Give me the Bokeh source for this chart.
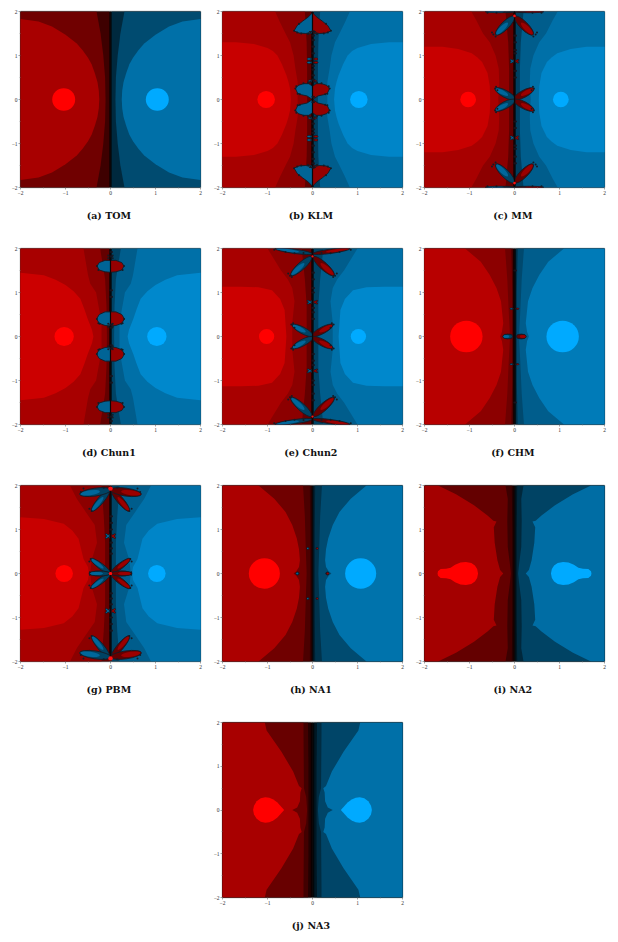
import math
from bokeh.plotting import figure
from bokeh.layouts import column, row, Spacer
from bokeh.models import ColumnDataSource, FixedTicker, Title, Range1d
from bokeh.embed import file_html
from bokeh.resources import INLINE

CAPTIONS = ["(a)  TOM", "(b)  KLM", "(c)  MM", "(d)  Chun1", "(e)  Chun2",
            "(f)  CHM", "(g)  PBM", "(h)  NA1", "(i)  NA2", "(j)  NA3"]
TICKS = [-2, -1, 0, 1, 2]
TICK_LABELS = ["\u22122", "\u22121", "0", "1", "2"]
MINOR_TICKS = [-1.5, -0.5, 0.5, 1.5]

# Each basin outline: (x, y) on the left, upper quadrant.
# Mirrored for the lower half and for the right basin. Ordered inner to outer.
TOM_bounds = [
    [(-0.03, 0), (-0.03, 2)],
    [(-0.11, 0), (-0.12, 0.5), (-0.16, 1.0), (-0.22, 1.5), (-0.31, 2)],
    [(-0.25, 0), (-0.26, 0.2), (-0.29, 0.4), (-0.35, 0.6), (-0.42, 0.8), (-0.5, 0.95), (-0.62, 1.12), (-0.75, 1.27), (-1, 1.47), (-1.3, 1.66), (-1.6, 1.77), (-2, 1.83)],
]
TOM_shades = [28, 62, 112, 168]
TOM_root = (-1.04, 0.255)
TOM_petals = []
TOM_lobes = []
TOM_dots = []
TOM_beads = []
TOM_sparks = []

KLM_bounds = [
    [(-0.03, 0), (-0.03, 2)],
    [(-0.12, 0), (-0.12, 0.7), (-0.13, 1.3), (-0.17, 2)],
    [(-0.33, 0), (-0.33, 0.4), (-0.38, 0.7), (-0.42, 1.0), (-0.5, 1.3), (-0.6, 1.5), (-0.72, 1.75), (-0.83, 2)],
    [(-0.48, 0), (-0.5, 0.25), (-0.54, 0.42), (-0.58, 0.55), (-0.68, 0.8), (-0.78, 1.0), (-0.88, 1.1), (-1.0, 1.17), (-1.3, 1.26), (-1.7, 1.3), (-2, 1.3)],
]
KLM_shades = [35, 95, 140, 168, 200]
KLM_root = (-1.03, 0.195)
KLM_petals = [(0.06, 0.92, 0.12, 0.05, 0), (0.06, 0.84, 0.12, 0.05, 0), (0.04, 1.52, 0.1, 0.05, 0), (0.04, 0.42, 0.1, 0.05, 0)]
KLM_lobes = [[(0, 0), (0.12, 0.08), (0.25, 0.11), (0.33, 0.14), (0.38, 0.25), (0.32, 0.32), (0.2, 0.36), (0.08, 0.36), (0, 0.3)],
             [(0, 1.97), (0.1, 1.87), (0.22, 1.78), (0.34, 1.68), (0.41, 1.56), (0.3, 1.51), (0.15, 1.5), (0, 1.53)]]
KLM_dots = [0.06, 0.45, 0.55, 0.68, 0.76, 1.05, 1.2, 1.35, 1.45, 1.55]
KLM_beads = [(0.38, 0.25), (0.33, 0.13), (0.28, 0.12), (0.36, 0.3), (0.1, 0.38), (0.05, 0.41), (0.2, 0.37), (0.41, 1.56),
             (0.34, 1.52), (0.25, 1.5), (0.1, 1.49), (0.05, 1.53), (0.3, 1.72)]
KLM_sparks = []

MM_bounds = [
    [(-0.03, 0), (-0.03, 2)],
    [(-0.12, 0), (-0.12, 0.7), (-0.14, 1.3), (-0.2, 2)],
    [(-0.36, 0), (-0.34, 0.4), (-0.35, 0.7), (-0.42, 1.0), (-0.55, 1.3), (-0.7, 1.5), (-0.85, 1.8), (-0.96, 2)],
    [(-0.54, 0), (-0.55, 0.3), (-0.6, 0.6), (-0.72, 0.85), (-0.83, 0.96), (-0.95, 1.05), (-1.25, 1.15), (-1.6, 1.2), (-2, 1.2)],
]
MM_shades = [35, 95, 140, 168, 200]
MM_root = (-1.03, 0.175)
MM_petals = [(0.21, 0.13, 0.5, 0.16, 28), (0.21, 1.68, 0.58, 0.18, -45),
             (0.32, 1.995, 0.66, 0.045, 0), (0.04, 0.87, 0.13, 0.035, 35), (0.04, 0.87, 0.13, 0.035, -35)]
MM_lobes = []
MM_dots = [0.5, 0.65, 1.05, 1.12, 1.3, 1.45]
MM_beads = [(0.43, 0.25), (0.38, 0.21), (0.41, 0.29), (0.47, 1.48), (0.42, 1.43), (0.5, 1.52), (0.6, 1.97), (0.4, 1.97)]
MM_sparks = [(1.9, 0.03)]

CHUN1_bounds = [
    [(-0.03, 0), (-0.03, 2)],
    [(-0.08, 0), (-0.09, 0.7), (-0.12, 1.3), (-0.23, 2)],
    [(-0.2, 0), (-0.2, 0.3), (-0.25, 0.6), (-0.32, 1.0), (-0.45, 1.2), (-0.5, 1.4), (-0.55, 1.7), (-0.6, 2)],
    [(-0.38, 0), (-0.41, 0.15), (-0.51, 0.41), (-0.58, 0.62), (-0.67, 0.86), (-0.82, 1.03), (-1.0, 1.17), (-1.22, 1.29), (-1.48, 1.39), (-2, 1.45)],
]
CHUN1_shades = [35, 100, 140, 168, 204]
CHUN1_root = (-1.03, 0.215)
CHUN1_petals = []
CHUN1_lobes = [[(0, 0.24), (0.12, 0.25), (0.25, 0.3), (0.31, 0.4), (0.25, 0.5), (0.12, 0.56), (0, 0.56)],
               [(0, 1.46), (0.12, 1.47), (0.25, 1.51), (0.3, 1.6), (0.25, 1.68), (0.12, 1.73), (0, 1.73)]]
CHUN1_dots = [0.2, 0.27, 0.9, 1.05, 1.82, 1.92]
CHUN1_beads = [(0.3, 0.4), (0.27, 0.3), (0.24, 0.29), (0.05, 0.22), (0.05, 0.29), (0.3, 1.6), (0.27, 1.51), (0.05, 1.78), (0.05, 1.84)]
CHUN1_sparks = []

CHUN2_bounds = [
    [(-0.03, 0), (-0.03, 2)],
    [(-0.13, 0), (-0.13, 0.7), (-0.17, 1.3), (-0.24, 2)],
    [(-0.45, 0), (-0.45, 0.3), (-0.4, 0.8), (-0.45, 1.1), (-0.55, 1.3), (-0.7, 1.5), (-0.85, 1.75), (-1.0, 2)],
    [(-0.58, 0), (-0.6, 0.3), (-0.62, 0.6), (-0.72, 0.85), (-0.9, 1.05), (-1.2, 1.12), (-1.6, 1.13), (-2, 1.13)],
]
CHUN2_shades = [35, 100, 140, 168, 204]
CHUN2_root = (-1.02, 0.17)
CHUN2_petals = [(0.22, 0.14, 0.52, 0.15, 28), (0.25, 1.6, 0.62, 0.17, -42), (0.42, 1.94, 0.84, 0.1, 8),
                (0.05, 0.78, 0.15, 0.035, 30), (0.05, 0.78, 0.15, 0.035, -30)]
CHUN2_lobes = []
CHUN2_dots = [0.4, 0.55, 0.65, 1.0, 1.1, 1.3, 1.45]
CHUN2_beads = [(0.47, 0.27), (0.4, 0.2), (0.43, 0.3), (0.5, 1.38), (0.54, 1.43), (0.46, 1.35), (0.2, 1.9), (0.4, 1.89), (0.6, 1.92), (0.85, 1.97)]
CHUN2_sparks = [(1.82, 0.025)]

CHM_bounds = [
    [(-0.03, 0), (-0.03, 2)],
    [(-0.05, 0), (-0.05, 1.0), (-0.07, 2)],
    [(-0.1, 0), (-0.13, 0.6), (-0.16, 1.3), (-0.21, 2)],
    [(-0.32, 0), (-0.28, 0.1), (-0.25, 0.3), (-0.27, 0.5), (-0.3, 0.8), (-0.4, 1.1), (-0.55, 1.4), (-0.75, 1.7), (-1.1, 2)],
]
CHM_shades = [20, 70, 110, 140, 184]
CHM_root = (-1.07, 0.36)
CHM_petals = [(0.15, 0, 0.21, 0.1, 0), (0.06, 0.63, 0.08, 0.03, 0)]
CHM_lobes = []
CHM_dots = [1.5]
CHM_beads = []
CHM_sparks = []

PBM_bounds = [
    [(-0.03, 0), (-0.03, 2)],
    [(-0.12, 0), (-0.12, 0.7), (-0.15, 1.3), (-0.2, 2)],
    [(-0.45, 0), (-0.42, 0.3), (-0.3, 0.7), (-0.35, 1.1), (-0.55, 1.4), (-0.75, 1.7), (-0.9, 2)],
    [(-0.48, 0), (-0.5, 0.15), (-0.6, 0.33), (-0.71, 0.79), (-0.85, 0.98), (-1.04, 1.13), (-1.48, 1.24), (-2, 1.28)],
]
PBM_shades = [35, 100, 140, 168, 200]
PBM_root = (-1.03, 0.195)
PBM_petals = [(0.22, 0.17, 0.55, 0.13, 37), (0.24, 0, 0.46, 0.11, 0), (0.22, 1.66, 0.62, 0.15, -50), (0.34, 1.85, 0.7, 0.18, -8),
              (0.05, 0.85, 0.15, 0.04, 40), (0.05, 0.85, 0.15, 0.04, -40)]
PBM_lobes = []
PBM_dots = [0.45, 0.57, 0.7, 1.0, 1.15, 1.3]
PBM_beads = [(0.44, 0.33), (0.47, 0.27), (0.46, 0.03), (0.42, 1.42), (0.47, 1.47), (0.66, 1.85), (0.6, 1.93), (0.15, 1.95)]
PBM_sparks = [(0, 0.035), (1.93, 0.05)]

NA1_bounds = [
    [(-0.02, 0), (-0.02, 2)],
    [(-0.05, 0), (-0.05, 1.0), (-0.06, 2)],
    [(-0.13, 0), (-0.15, 0.6), (-0.17, 1.3), (-0.21, 2)],
    [(-0.42, 0), (-0.36, 0.05), (-0.3, 0.15), (-0.28, 0.3), (-0.3, 0.55), (-0.35, 0.8), (-0.45, 1.1), (-0.6, 1.4), (-0.85, 1.7), (-1.2, 2)],
]
NA1_shades = [18, 50, 76, 112, 172]
NA1_root = (-1.07, 0.345)
NA1_petals = [(0.33, 0, 0.06, 0.06, 0), (0.1, 0.57, 0.05, 0.05, 0)]
NA1_lobes = []
NA1_dots = []
NA1_beads = []
NA1_sparks = []

NA2_bounds = [
    [(-0.02, 0), (-0.02, 2)],
    [(-0.05, 0), (-0.05, 1.0), (-0.06, 2)],
    [(-0.08, 0), (-0.1, 0.2), (-0.15, 0.6), (-0.16, 1.2), (-0.15, 1.7), (-0.2, 2)],
    [(-0.25, 0), (-0.32, 0.08), (-0.38, 0.3), (-0.44, 0.7), (-0.46, 1.05), (-0.4, 1.18), (-0.47, 1.2), (-0.6, 1.32), (-0.9, 1.55), (-1.3, 1.8), (-1.7, 2)],
]
NA2_shades = [12, 36, 60, 100, 164]
NA2_root = [(-0.81, 0), (-0.83, 0.1), (-0.88, 0.18), (-0.96, 0.24), (-1.08, 0.26), (-1.2, 0.25), (-1.32, 0.2), (-1.42, 0.13), (-1.52, 0.11), (-1.64, 0.1), (-1.7, 0.05), (-1.71, 0)]
NA2_petals = []
NA2_lobes = []
NA2_dots = []
NA2_beads = []
NA2_sparks = []

NA3_bounds = [
    [(-0.04, 0), (-0.04, 2)],
    [(-0.09, 0), (-0.09, 1.0), (-0.1, 2)],
    [(-0.12, 0), (-0.14, 0.3), (-0.19, 0.5), (-0.2, 1.8), (-0.2, 2)],
    [(-0.45, 0), (-0.34, 0.06), (-0.28, 0.2), (-0.27, 0.4), (-0.24, 0.5), (-0.3, 0.55), (-0.43, 0.88), (-0.69, 1.33), (-1.02, 1.82), (-1.06, 2)],
]
NA3_shades = [12, 36, 66, 104, 168]
NA3_root = [(-0.63, 0), (-0.7, 0.08), (-0.78, 0.17), (-0.87, 0.24), (-0.96, 0.28), (-1.05, 0.29), (-1.15, 0.27), (-1.24, 0.2), (-1.3, 0.1), (-1.32, 0)]
NA3_petals = []
NA3_lobes = []
NA3_dots = []
NA3_beads = []
NA3_sparks = []

PANELS = [
    (TOM_bounds, TOM_shades, TOM_root, TOM_petals, TOM_lobes, TOM_dots, TOM_beads, TOM_sparks),
    (KLM_bounds, KLM_shades, KLM_root, KLM_petals, KLM_lobes, KLM_dots, KLM_beads, KLM_sparks),
    (MM_bounds, MM_shades, MM_root, MM_petals, MM_lobes, MM_dots, MM_beads, MM_sparks),
    (CHUN1_bounds, CHUN1_shades, CHUN1_root, CHUN1_petals, CHUN1_lobes, CHUN1_dots, CHUN1_beads, CHUN1_sparks),
    (CHUN2_bounds, CHUN2_shades, CHUN2_root, CHUN2_petals, CHUN2_lobes, CHUN2_dots, CHUN2_beads, CHUN2_sparks),
    (CHM_bounds, CHM_shades, CHM_root, CHM_petals, CHM_lobes, CHM_dots, CHM_beads, CHM_sparks),
    (PBM_bounds, PBM_shades, PBM_root, PBM_petals, PBM_lobes, PBM_dots, PBM_beads, PBM_sparks),
    (NA1_bounds, NA1_shades, NA1_root, NA1_petals, NA1_lobes, NA1_dots, NA1_beads, NA1_sparks),
    (NA2_bounds, NA2_shades, NA2_root, NA2_petals, NA2_lobes, NA2_dots, NA2_beads, NA2_sparks),
    (NA3_bounds, NA3_shades, NA3_root, NA3_petals, NA3_lobes, NA3_dots, NA3_beads, NA3_sparks),
]


def red(v):
    return "#%02x0000" % v


def blue(v):
    return "#00%02x%02x" % (round(v * 2 / 3), v)


def outline(points):
    top = list(points)
    last = top[-1]
    xs = [p[0] for p in reversed(top)] + [p[0] for p in top[1:]]
    ys = [-p[1] for p in reversed(top)] + [p[1] for p in top[1:]]
    xs += [-2.2, -2.2]
    ys += [last[1], -last[1]]
    return xs, ys


def blob(points):
    xs = [p[0] for p in points] + [p[0] for p in reversed(points[1:-1])]
    ys = [p[1] for p in points] + [-p[1] for p in reversed(points[1:-1])]
    return xs, ys


def panel(i, left, right, top, frame_h, bottom):
    bounds, shades, root, petals, lobes, dots, beads, sparks = PANELS[i]
    p = figure(width=left + 180 + right, height=top + frame_h + bottom,
               min_border_left=left, min_border_right=right,
               min_border_top=top, min_border_bottom=bottom,
               x_range=Range1d(-2, 2), y_range=Range1d(-2, 2),
               output_backend="svg", toolbar_location=None,
               background_fill_color="white", border_fill_color="white")
    p.frame_width = 180
    p.frame_height = frame_h
    p.grid.visible = False
    p.outline_line_color = "#aab0b0"
    p.outline_line_width = 1.5
    for ax in (p.xaxis[0], p.yaxis[0]):
        ax.ticker = FixedTicker(ticks=TICKS, minor_ticks=MINOR_TICKS)
        ax.major_label_overrides = dict(zip(TICKS, TICK_LABELS))
        ax.major_label_text_font_size = "5.5px"
        ax.major_label_text_font = "Liberation Serif"
        ax.major_label_text_color = "#333333"
        ax.major_label_standoff = 1
        ax.axis_line_color = None
        ax.major_tick_line_color = "#666666"
        ax.minor_tick_line_color = "#888888"
        ax.major_tick_line_width = 0.6
        ax.minor_tick_line_width = 0.5
        ax.major_tick_in = 0
        ax.minor_tick_in = 0
        ax.major_tick_out = 2
        ax.minor_tick_out = 1

    xs, ys, colors = [[-2.2, 0, 0, -2.2], [2.2, 0, 0, 2.2]], [[-2.2, -2.2, 2.2, 2.2]] * 2, [red(shades[0]), blue(shades[0])]
    for b, v in zip(bounds, shades[1:]):
        bx, by = outline(b)
        xs += [bx, [-q for q in bx]]
        ys += [by, by]
        colors += [red(v), blue(v)]
    p.patches("xs", "ys", fill_color="colors", line_color=None,
              source=ColumnDataSource(dict(xs=xs, ys=ys, colors=colors)))

    if lobes:
        lx, ly, lc = [], [], []
        for lobe in lobes:
            for sx, col in ((1, red), (-1, blue)):
                for sy in (1, -1):
                    lx.append([sx * q[0] for q in lobe])
                    ly.append([sy * q[1] for q in lobe])
                    lc.append(col(150))
        p.patches("x", "y", fill_color="c", line_color="#141c26", line_width=0.9,
                  source=ColumnDataSource(dict(x=lx, y=ly, c=lc)))

    if petals:
        ex, ey, ew, eh, ea, ec = [], [], [], [], [], []
        ix, iy, iw, ih, ia, ic = [], [], [], [], [], []
        for cx, cy, w, h, a in petals:
            for sx, col in ((1, red), (-1, blue)):
                for sy in (1, -1):
                    ang = a * sx * sy
                    ex.append(sx * cx); ey.append(sy * cy); ew.append(w); eh.append(h); ea.append(ang)
                    ec.append(col(100))
                    rad = math.radians(a)
                    ix.append(sx * (cx + 0.16 * w * math.cos(rad)))
                    iy.append(sy * (cy + 0.16 * w * math.sin(rad)))
                    iw.append(w * 0.62); ih.append(h * 0.62); ia.append(ang)
                    ic.append(col(155))
        p.ellipse("x", "y", width="w", height="h", angle="a", angle_units="deg",
                  fill_color="c", line_color="#141c26", line_width=0.9,
                  source=ColumnDataSource(dict(x=ex, y=ey, w=ew, h=eh, a=ea, c=ec)))
        p.ellipse("x", "y", width="w", height="h", angle="a", angle_units="deg",
                  fill_color="c", line_color=None,
                  source=ColumnDataSource(dict(x=ix, y=iy, w=iw, h=ih, a=ia, c=ic)))

    p.segment(x0=[0], y0=[-2], x1=[0], y1=[2], line_color="#0c0608", line_width=1.2)

    if dots:
        dy = list(dots) + [-d for d in dots]
        p.scatter(x=[0] * len(dy) + [0.03] * len(dy), y=dy + dy, size=2.2,
                  marker="circle", fill_color="#18141e", line_color=None)

    if beads:
        bx = [sx * q[0] for q in beads for sx in (1, -1) for sy in (1, -1)]
        by = [sy * q[1] for q in beads for sx in (1, -1) for sy in (1, -1)]
        p.scatter(x=bx, y=by, size=2.0, marker="circle", fill_color="#141c26", line_color=None)

    if sparks:
        sx = [0 for s in sparks for sg in (1, -1)]
        sy = [sg * s[0] for s in sparks for sg in (1, -1)]
        sw = [2 * s[1] for s in sparks for sg in (1, -1)]
        p.ellipse(x=sx, y=sy, width=sw, height=sw, fill_color="#ff1010", line_color=None)

    if isinstance(root, tuple):
        cx, r = root
        p.ellipse(x=[cx, -cx], y=[0, 0], width=[2 * r, 2 * r], height=[2 * r, 2 * r],
                  fill_color=["#ff0000", "#00aaff"], line_color=None)
    else:
        bx, by = blob(root)
        p.patches([bx, [-q for q in bx]], [by, by], fill_color=["#ff0000", "#00aaff"], line_color=None)

    p.add_layout(Title(text=CAPTIONS[i], align="center", text_font="DejaVu Serif",
                       text_font_style="bold", text_font_size="9.5px", text_color="#111111",
                       standoff=20), "below")
    return p


COLS = [(12, 10), (10, 10), (12, 8)]
rows = []
for r in range(3):
    top = 11 if r == 0 else 3
    cells = []
    for c in range(3):
        left = COLS[c][0] + (8 if c == 0 else 0)
        cells.append(panel(r * 3 + c, left, COLS[c][1], top, 176, 58))
    rows.append(row(*cells, spacing=0))
rows.append(row(Spacer(width=210, height=215), panel(9, COLS[1][0], COLS[1][1], 3, 175, 43), spacing=0))
page = column(*rows, spacing=0)
open("out.html", "w").write(file_html(page, INLINE))
